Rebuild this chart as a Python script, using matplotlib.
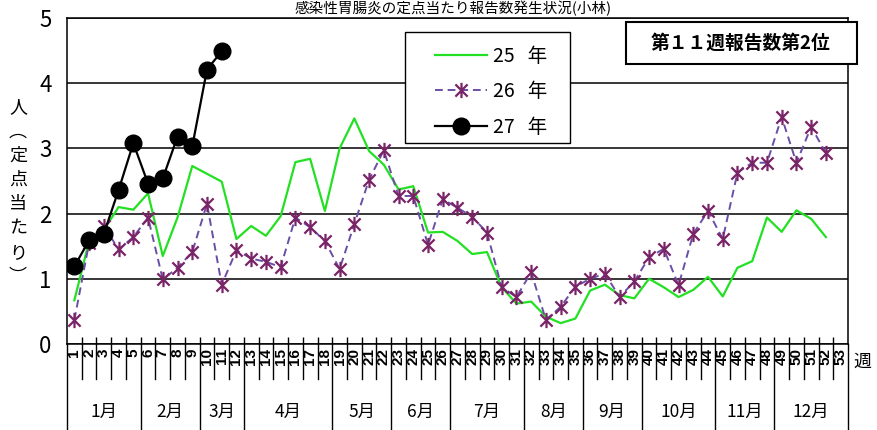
import matplotlib
matplotlib.use('Agg')
import matplotlib.pyplot as plt
import matplotlib.transforms as mtransforms
from matplotlib.path import Path
from matplotlib.patches import Rectangle
from matplotlib.font_manager import FontProperties
import numpy as np

plt.rcParams['font.family'] = ['Noto Sans CJK JP', 'DejaVu Sans']

# weekly values (per sentinel)
weeks = np.arange(1, 54)
y25 = [0.67, 1.58, 1.75, 2.10, 2.06, 2.31, 1.35, 1.94, 2.73, 2.61,
       2.49, 1.61, 1.81, 1.66, 1.96, 2.79, 2.84, 2.04, 3.00, 3.46,
       2.96, 2.75, 2.37, 2.42, 1.71, 1.72, 1.58, 1.38, 1.41, 0.87,
       0.62, 0.65, 0.42, 0.32, 0.39, 0.82, 0.91, 0.75, 0.70, 1.00,
       0.87, 0.72, 0.83, 1.03, 0.73, 1.17, 1.27, 1.94, 1.72, 2.05,
       1.92, 1.64]
y26 = [0.37, 1.55, 1.81, 1.45, 1.64, 1.94, 0.99, 1.17, 1.41, 2.15,
       0.91, 1.44, 1.31, 1.26, 1.18, 1.94, 1.79, 1.58, 1.15, 1.84,
       2.52, 2.97, 2.27, 2.27, 1.52, 2.22, 2.09, 1.95, 1.71, 0.87,
       0.72, 1.10, 0.37, 0.57, 0.88, 1.00, 1.08, 0.72, 0.96, 1.33,
       1.46, 0.90, 1.69, 2.04, 1.61, 2.63, 2.78, 2.78, 3.48, 2.78,
       3.33, 2.93]
y27 = [1.19, 1.59, 1.69, 2.36, 3.08, 2.46, 2.54, 3.18, 3.03, 4.21, 4.49]

months = ['1月', '2月', '3月', '4月', '5月', '6月',
          '7月', '8月', '9月', '10月', '11月', '12月']
month_weeks = [5, 4, 3, 6, 4, 4, 5, 4, 4, 5, 4, 5]

labels = ['25   年', '26   年', '27   年']

narrow = ['Liberation Sans Narrow', 'Noto Sans CJK JP', 'DejaVu Sans']

# asterisk like marker: X with vertical bar
star = Path([(-1, -1), (1, 1), (-1, 1), (1, -1), (0, -1.25), (0, 1.25)],
            [Path.MOVETO, Path.LINETO, Path.MOVETO, Path.LINETO,
             Path.MOVETO, Path.LINETO])

fig = plt.figure(figsize=(8.77, 4.3), dpi=100)
ax = fig.add_axes([67/877, 86/430, 781/877, 326/430])

l25, = ax.plot(weeks[:len(y25)], y25, color='#22e022', lw=1.6, zorder=3)
l26, = ax.plot(weeks[:len(y26)], y26, color='#6a4ea6', lw=1.4, ls=(0, (4, 2.5)),
               marker=star, ms=11, mfc='none', mec='#7a2468', mew=1.6, zorder=4)
l27, = ax.plot(weeks[:len(y27)], y27, color='black', lw=1.6,
               marker='o', ms=12, mfc='black', mec='black', zorder=5)

ax.set_xlim(0.5, 53.5)
ax.set_ylim(0, 5)
ax.set_yticks(range(6))
ax.yaxis.grid(True, color='black', lw=1.1)
ax.set_axisbelow(True)
for s in ax.spines.values():
    s.set_color('black')
    s.set_linewidth(1.1)

ax.tick_params(axis='y', length=0, pad=11)
for t in ax.get_yticklabels():
    t.set_fontproperties(FontProperties(family=narrow, size=16))

ax.set_xticks(weeks)
ax.set_xticklabels([str(w) for w in weeks], rotation=90, fontsize=11,
                   fontweight='bold', family=['Liberation Sans', 'DejaVu Sans'])
ax.tick_params(axis='x', which='major', length=0, pad=3)
ax.set_xticks(np.arange(1.5, 53, 1), minor=True)
ax.tick_params(axis='x', which='minor', direction='in', length=5, width=1, color='black')

# separators under the axis: weeks short, months long
trans = mtransforms.blended_transform_factory(ax.transData, ax.transAxes)
bounds = np.concatenate([[0.5], 0.5 + np.cumsum(month_weeks)])
for b in np.arange(0.5, 54, 1):
    ybot = -86/326 if b in bounds else -35/326
    ax.plot([b, b], [0, ybot], transform=trans, clip_on=False,
            color='black', lw=1)

for i, m in enumerate(months):
    c = (bounds[i] + bounds[i+1]) / 2
    ax.text(c, -68/326, m, transform=trans, ha='center', va='center',
            fontsize=12.5, family=narrow)

# legend frame drawn by hand so the padding matches
ax.add_patch(Rectangle((405/877, 1 - 143/430), 165/877, 111/430,
                       transform=fig.transFigure, facecolor='white',
                       edgecolor='black', lw=1, clip_on=False, zorder=6))
leg = ax.legend([l25, l26, l27], labels, loc='upper left',
                bbox_to_anchor=(423/877, 1 - 34/430), bbox_transform=fig.transFigure,
                borderaxespad=0, frameon=False,
                handlelength=2.7, handletextpad=0.3, labelspacing=0.75,
                borderpad=0.6, prop=FontProperties(family=narrow, size=14))
leg.set_zorder(7)

# note box
fig.add_artist(Rectangle((626/877, 1 - 64/430), 231/877, 42/430,
                         transform=fig.transFigure, facecolor='white',
                         edgecolor='black', lw=1.5, zorder=10))
fig.text(741/877, 1 - 43/430, '第１１週報告数第2位', ha='center', va='center',
         fontsize=13.5, fontweight='bold', zorder=11)

fig.text(862/877, 1 - 362/430, '週', ha='center', va='center', fontsize=13)

fig.text(18/877, 1 - 192/430, '人\n︵\n定\n点\n当\nた\nり\n︶', ha='center',
         va='center', fontsize=13, linespacing=1.45)

# title sits right at the top edge, above the plot frame
fig.text(453/877, 1 - 1/430, '感染性胃腸炎の定点当たり報告数発生状況(小林)',
         ha='center', va='top', fontsize=10.5)

fig.savefig('out.png', dpi=100)
